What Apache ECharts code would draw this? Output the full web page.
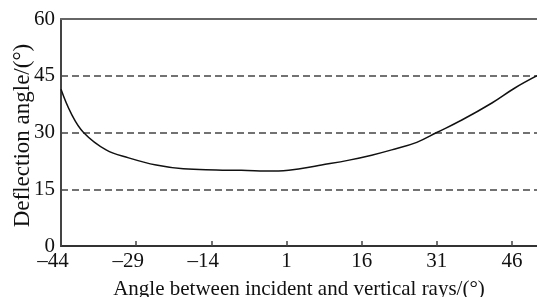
<!doctype html>
<html lang="en">
<head>
	<meta charset="UTF-8">
	<title>Deflection angle</title>
	<script src="https://cdnjs.cloudflare.com/ajax/libs/echarts/6.0.0/echarts.min.js"></script>
	<style>
		html, body { margin: 0; padding: 0; background: #fff; }
		#main { width: 537px; height: 297px; }
	</style>
</head>
<body>
	<div id="main"></div>
	<script type="text/javascript">
		// values
		var angleX = [-44, -42, -39.5, -35, -30.5, -25, -19.6, -13, -8, -1.5, 4, 8, 13.5, 18, 22, 27, 31, 36, 42, 46.5, 51];
		var deflection = [41.4, 35.1, 30, 25.4, 23.3, 21.4, 20.4, 20.1, 20.0, 19.8, 20.5, 21.4, 22.7, 24.0, 25.4, 27.4, 30, 33.3, 37.8, 41.7, 45];
		var xTicks = [-44, -29, -14, 1, 16, 31, 46];

		var font = 'Liberation Serif';
		var myChart = echarts.init(document.getElementById('main'));

		var points = angleX.map((x, i) => [x, deflection[i]]);

		option = {
			animation: false,
			grid: { left: 61, right: 0, top: 19, bottom: 51, outerBoundsMode: 'none', containLabel: false },
			xAxis: [
				{
					type: 'value',
					min: -44,
					max: 51,
					name: 'Angle between incident and vertical rays/(°)',
					nameLocation: 'middle',
					nameGap: 33,
					nameTextStyle: { fontFamily: font, fontSize: 21, color: '#111' },
					axisLine: { show: true, onZero: false, lineStyle: { color: '#333', width: 2 } },
					axisTick: { show: true, inside: true, length: 5, customValues: xTicks, lineStyle: { color: '#444', width: 1.5 } },
					axisLabel: {
						customValues: xTicks,
						margin: 5,
						fontFamily: font,
						fontSize: 21,
						color: '#111',
						formatter: v => v < 0 ? '{n|–' + Math.abs(v) + '}' : '' + v,
						rich: { n: { fontFamily: font, fontSize: 21, color: '#111', padding: [0, 16, 0, 0] } }
					},
					splitLine: { show: false }
				},
				{
					type: 'value',
					position: 'top',
					min: -44,
					max: 51,
					axisLine: { show: true, onZero: false, lineStyle: { color: '#666', width: 2 } },
					axisTick: { show: false },
					axisLabel: { show: false },
					splitLine: { show: false }
				}
			],
			yAxis: {
				type: 'value',
				min: 0,
				max: 60,
				interval: 15,
				name: 'Deflection angle/(°)',
				nameLocation: 'middle',
				nameGap: 27,
				nameMoveOverlap: false,
				nameTextStyle: { fontFamily: font, fontSize: 23, color: '#111', padding: [0, 6, 0, 0] },
				axisLine: { show: true, onZero: false, lineStyle: { color: '#444', width: 2 } },
				axisTick: { show: false },
				axisLabel: { margin: 6, padding: [4, 0, 0, 0], fontFamily: font, fontSize: 21, color: '#111' },
				splitLine: { show: true, lineStyle: { color: '#444', width: 1.5, type: [7, 4] } }
			},
			series: [
				{
					type: 'line',
					data: points,
					smooth: 0.4,
					showSymbol: false,
					lineStyle: { color: '#111', width: 1.5 }
				}
			]
		};
		myChart.setOption(option);
	</script>
</body>
</html>
